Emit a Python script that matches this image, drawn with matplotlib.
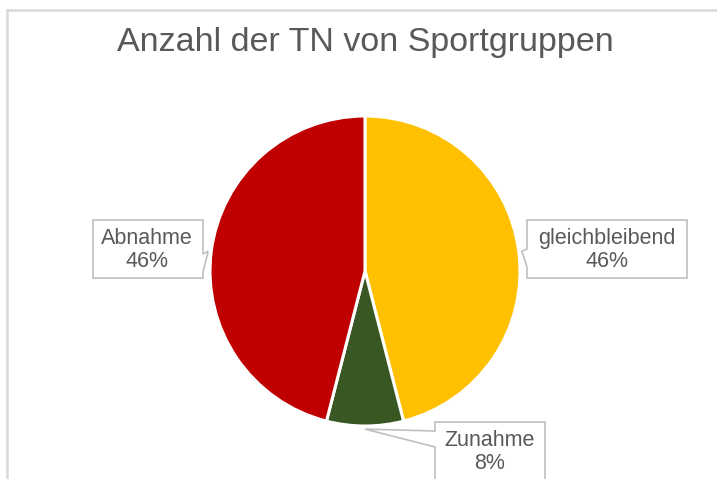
import numpy as np
import matplotlib
matplotlib.use("Agg")
import matplotlib.pyplot as plt
from matplotlib.patches import Polygon
from matplotlib.lines import Line2D

plt.rcParams["font.family"] = ["Liberation Sans", "DejaVu Sans"]

# data (clockwise from 12 o'clock)
categories = ["gleichbleibend", "Zunahme", "Abnahme"]
shares = [46, 8, 46]
colors = ["#FFC000", "#385723", "#C00000"]
title = "Anzahl der TN von Sportgruppen"

W, H = 717, 479
R_PX = 155            # pie radius in pixels
CX, CY = 365, 271     # pie centre in pixels (from top-left)
L = 2.5               # half-extent of axes in data units (radius = 1)

fig = plt.figure(figsize=(W / 100, H / 100), dpi=100)
S = 2 * L * R_PX
ax = fig.add_axes([(CX - S / 2) / W, (H - CY - S / 2) / H, S / W, S / H])

wedges, _ = ax.pie(shares, colors=colors, startangle=90, counterclock=False,
                   radius=1.0, center=(0, 0),
                   wedgeprops=dict(edgecolor="white", linewidth=2.2))
# pie() resets the limits, so set them afterwards
ax.set_xlim(-L, L)
ax.set_ylim(-L, L)
ax.set_aspect("equal")
ax.axis("off")


def px(x, y):
    # pixel (top-left origin) -> data
    return ((x - CX) / R_PX, (CY - y) / R_PX)


def anchor(w):
    mid = np.deg2rad((w.theta1 + w.theta2) / 2)
    return np.cos(mid) * 1.02, np.sin(mid) * 1.02


edge = "#BFBFBF"
txt_color = "#595959"

# box rectangles in pixels: left, top, right, bottom ; notch side and span
boxes = {
    "Abnahme": dict(rect=(93, 220, 203, 278), side="right", span=(254, 272),
                    text_xy=(147, 250)),
    "gleichbleibend": dict(rect=(527, 220, 687, 278), side="left", span=(249, 267),
                           text_xy=(607, 250)),
    "Zunahme": dict(rect=(435, 422, 545, 500), side="left", span=(431, 447),
                    text_xy=(490, 452)),
}

for w, name, share in zip(wedges, categories, shares):
    b = boxes[name]
    l, t, r, bt = b["rect"]
    s0, s1 = b["span"]
    ap = anchor(w)
    (x0, y0), (x1, y1) = px(l, t), px(r, bt)
    _, ys0 = px(0, s0)
    _, ys1 = px(0, s1)
    if b["side"] == "right":
        pts = [(x0, y0), (x1, y0), (x1, ys0), ap, (x1, ys1), (x1, y1), (x0, y1)]
    else:
        pts = [(x0, y0), (x1, y0), (x1, y1), (x0, y1), (x0, ys1), ap, (x0, ys0)]
    ax.add_patch(Polygon(pts, closed=True, facecolor="white", edgecolor=edge,
                         linewidth=1.2, clip_on=False, zorder=3))
    tx, ty = px(*b["text_xy"])
    ax.text(tx, ty, f"{name}\n{share}%", ha="center", va="center",
            fontsize=15.5, color=txt_color, linespacing=1.12, zorder=4)

fig.text(CX / W, 1 - 43 / H, title, ha="center", va="center",
         fontsize=24.5, color=txt_color)

# chart area border (left and top visible)
fig.add_artist(Line2D([7 / W, 7 / W], [0, 1 - 10 / H], transform=fig.transFigure,
                      color="#D9D9D9", linewidth=1.8))
fig.add_artist(Line2D([7 / W, 1], [1 - 10 / H, 1 - 10 / H], transform=fig.transFigure,
                      color="#D9D9D9", linewidth=1.8))

fig.savefig("out.png", dpi=100)
